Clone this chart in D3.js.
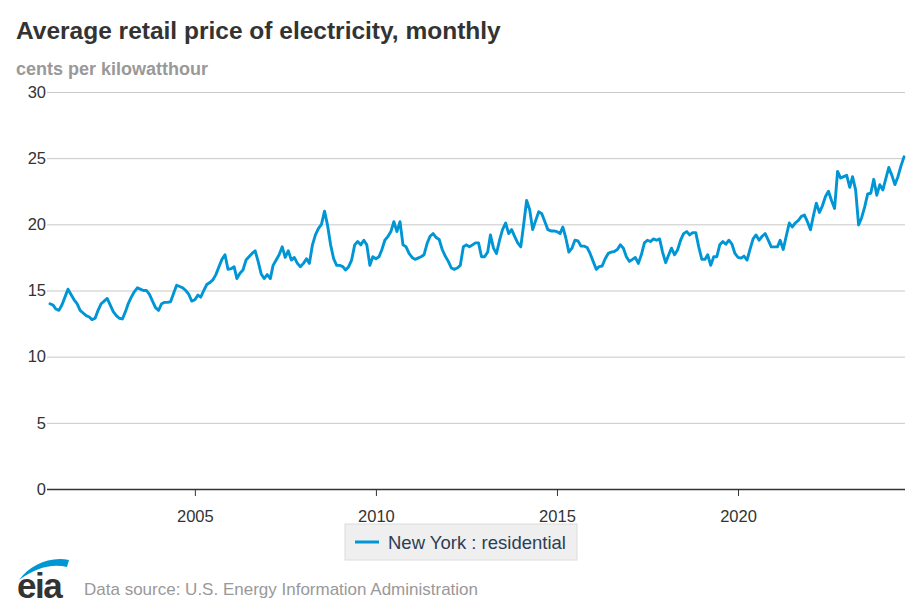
<!DOCTYPE html>
<html><head><meta charset="utf-8">
<script src="https://cdn.jsdelivr.net/npm/d3@7"></script>
<style>
body{margin:0;background:#fff}
svg{display:block}
text{font-family:"Liberation Sans",Arial,Helvetica,sans-serif}
</style>
</head><body>
<svg id="chart" width="920" height="613"></svg>
<script>
// ---------- data ----------
const titleText = "Average retail price of electricity, monthly";
const unitText = "cents per kilowatthour";
const sourceText = "Data source: U.S. Energy Information Administration";
const seriesName = "New York : residential";
const startYear = 2001; // first value = January 2001, monthly
const prices = [
  14.0, 13.9, 13.6, 13.5, 13.9, 14.5, 15.1, 14.7, 14.3, 14.0, 13.5, 13.3,   // 2001
  13.1, 13.0, 12.8, 12.9, 13.5, 14.0, 14.2, 14.4, 13.9, 13.4, 13.1, 12.9,   // 2002
  12.85, 13.4, 14.0, 14.5, 14.9, 15.2, 15.1, 15.0, 15.0, 14.7, 14.2, 13.7,  // 2003
  13.5, 14.0, 14.1, 14.1, 14.15, 14.8, 15.4, 15.3, 15.2, 15.0, 14.7, 14.2,  // 2004
  14.3, 14.65, 14.5, 15.0, 15.45, 15.6, 15.8, 16.2, 16.8, 17.35, 17.7, 16.6,// 2005
  16.65, 16.8, 15.9, 16.3, 16.55, 17.3, 17.55, 17.8, 18.0, 17.2, 16.25, 15.9,// 2006
  16.2, 15.9, 16.9, 17.3, 17.7, 18.3, 17.5, 18.0, 17.3, 17.5, 17.05, 16.8,  // 2007
  17.05, 17.4, 17.05, 18.45, 19.2, 19.7, 20.0, 21.0, 19.9, 18.45, 17.4, 16.9,// 2008
  16.9, 16.8, 16.55, 16.8, 17.3, 18.45, 18.7, 18.45, 18.8, 18.45, 16.9, 17.55,// 2009
  17.4, 17.55, 18.06, 18.8, 19.07, 19.45, 20.2, 19.45, 20.2, 18.45, 18.3, 17.8,// 2010
  17.5, 17.35, 17.45, 17.55, 17.7, 18.55, 19.1, 19.3, 19.0, 18.85, 18.1, 17.6,// 2011
  17.2, 16.7, 16.6, 16.7, 16.9, 18.3, 18.45, 18.3, 18.45, 18.6, 18.6, 17.55,// 2012
  17.55, 17.9, 19.2, 18.2, 17.8, 18.8, 19.6, 20.1, 19.3, 19.6, 19.07, 18.6, // 2013
  18.3, 20.1, 21.8, 21.1, 19.6, 20.3, 20.95, 20.8, 20.2, 19.6, 19.5, 19.5,  // 2014
  19.45, 19.3, 19.8, 18.95, 17.9, 18.2, 18.8, 18.75, 18.35, 18.35, 18.25, 17.8,// 2015
  17.2, 16.6, 16.8, 16.85, 17.4, 17.8, 17.9, 17.95, 18.1, 18.45, 18.2, 17.55,// 2016
  17.2, 17.35, 17.5, 17.05, 17.7, 18.6, 18.8, 18.7, 18.9, 18.8, 18.9, 17.9, // 2017
  17.1, 17.7, 18.2, 17.7, 18.06, 18.8, 19.3, 19.45, 19.2, 19.37, 19.37, 18.3,// 2018
  17.35, 17.35, 17.7, 16.9, 17.55, 17.55, 18.45, 18.7, 18.5, 18.8, 18.5, 17.8,// 2019
  17.5, 17.45, 17.6, 17.3, 18.1, 18.9, 19.2, 18.8, 19.1, 19.3, 18.8, 18.3,  // 2020
  18.3, 18.3, 18.8, 18.1, 19.1, 20.1, 19.8, 20.1, 20.3, 20.6, 20.7, 20.2,   // 2021
  19.6, 20.7, 21.6, 20.9, 21.4, 22.1, 22.5, 21.8, 21.2, 24.0, 23.5, 23.6,   // 2022
  23.7, 22.8, 23.6, 22.6, 19.95, 20.5, 21.3, 22.3, 22.35, 23.4, 22.2, 23.0, // 2023
  22.6, 23.5, 24.3, 23.7, 23.0, 23.6, 24.4, 25.1                            // 2024
];
const yTicks = [0, 5, 10, 15, 20, 25, 30];
const xTickYears = [2005, 2010, 2015, 2020];

// ---------- drawing ----------
const lineColor = "#0096d6";
const svg = d3.select("#chart");
svg.append("rect").attr("width", 920).attr("height", 613).attr("fill", "#fff");

const dates = prices.map((v, i) => new Date(startYear, i, 1));
const data = prices.map((v, i) => ({date: dates[i], value: v}));

const plotLeft = 49, plotRight = 905, plotTop = 92, plotBottom = 489;
const x = d3.scaleTime().domain(d3.extent(dates)).range([plotLeft + 1, plotRight - 1]);
const y = d3.scaleLinear().domain([0, 30]).range([plotBottom, plotTop]);

// title & unit
svg.append("text").attr("x", 16).attr("y", 39)
  .attr("font-size", 24.5).attr("font-weight", "bold").attr("fill", "#333")
  .text(titleText);
svg.append("text").attr("x", 16).attr("y", 75)
  .attr("font-size", 18).attr("font-weight", "bold").attr("fill", "#999")
  .text(unitText);

// y axis with gridlines
const yAxis = d3.axisLeft(y).tickValues(yTicks).tickSize(-(plotRight - plotLeft)).tickPadding(3)
  .tickFormat(d3.format("d"));
const gy = svg.append("g").attr("transform", `translate(${plotLeft},0)`).call(yAxis);
gy.select(".domain").remove();
gy.selectAll(".tick line").attr("stroke", "#c8c8c8").attr("stroke-width", 1)
  .attr("x1", -2);
gy.selectAll(".tick text").attr("font-size", 16.5).attr("fill", "#333")
  .attr("font-family", '"Liberation Sans",Arial,sans-serif');
gy.selectAll(".tick").filter(d => d === 0).select("line").attr("stroke", "#333").attr("stroke-width", 1.5);

// x axis
const xAxis = d3.axisBottom(x)
  .tickValues(xTickYears.map(yr => new Date(yr, 0, 1)))
  .tickFormat(d3.timeFormat("%Y")).tickSize(7).tickPadding(14);
const gx = svg.append("g").attr("transform", `translate(0,${plotBottom})`).call(xAxis);
gx.select(".domain").remove();
gx.selectAll(".tick line").attr("stroke", "#333").attr("stroke-width", 1);
gx.selectAll(".tick text").attr("font-size", 16.5).attr("fill", "#333")
  .attr("font-family", '"Liberation Sans",Arial,sans-serif');

// line
const line = d3.line().x(d => x(d.date)).y(d => y(d.value));
svg.append("path").datum(data)
  .attr("fill", "none").attr("stroke", lineColor).attr("stroke-width", 2.9)
  .attr("stroke-linejoin", "round").attr("stroke-linecap", "round")
  .attr("d", line);

// legend
const lg = svg.append("g").attr("transform", "translate(345,524)");
lg.append("rect").attr("width", 232).attr("height", 36)
  .attr("fill", "#efefef").attr("stroke", "#dcdcdc");
lg.append("line").attr("x1", 10).attr("x2", 34).attr("y1", 18).attr("y2", 18)
  .attr("stroke", lineColor).attr("stroke-width", 3);
lg.append("text").attr("x", 43).attr("y", 24.5)
  .attr("font-size", 18.5).attr("fill", "#2c3e55").text(seriesName);

// logo + source
const logo = svg.append("g");
logo.append("path")
  .attr("d", "M19,580 C30,565 50,556 69,560 L67,567 C52,563 35,568 19,580 Z")
  .attr("fill", lineColor);
logo.append("text").attr("x", 17).attr("y", 598)
  .attr("font-size", 35).attr("font-weight", "bold").attr("fill", "#333")
  .attr("letter-spacing", -1.5).text("eia");
svg.append("text").attr("x", 84).attr("y", 595)
  .attr("font-size", 17).attr("fill", "#999").text(sourceText);
</script>
</body></html>
